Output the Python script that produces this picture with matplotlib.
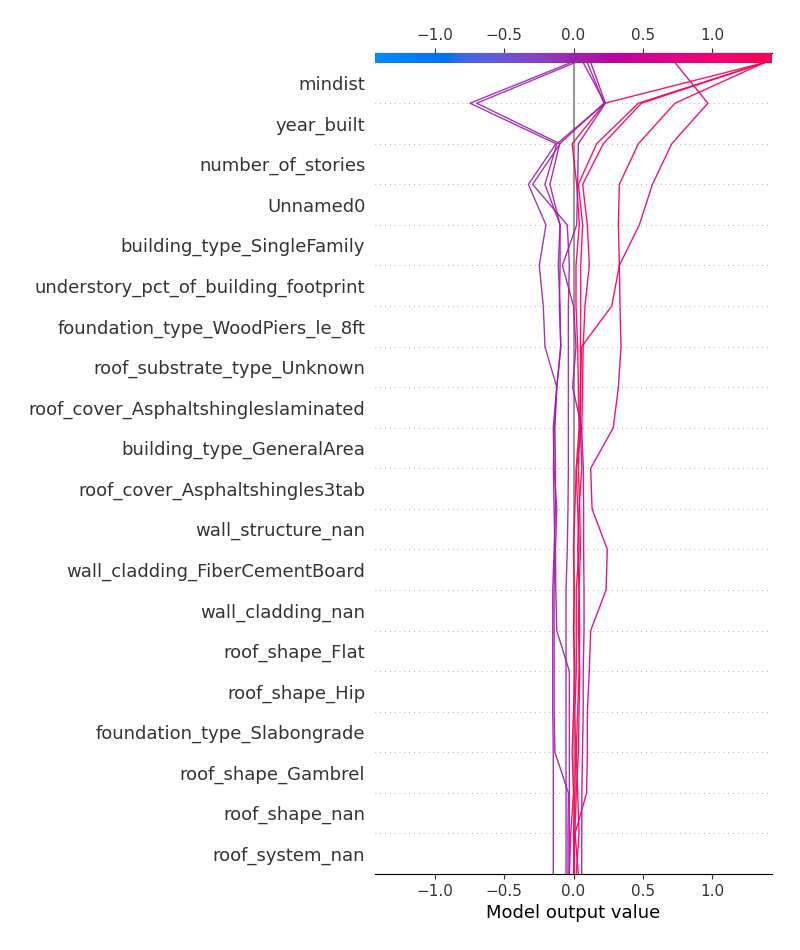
import numpy as np
import matplotlib
matplotlib.use("Agg")
import matplotlib.pyplot as plt
from matplotlib.colors import LinearSegmentedColormap
from matplotlib import cm

# ---------------- data ----------------
feature_names = [  # top to bottom
    "mindist", "year_built", "number_of_stories", "Unnamed0",
    "building_type_SingleFamily", "understory_pct_of_building_footprint",
    "foundation_type_WoodPiers_le_8ft", "roof_substrate_type_Unknown",
    "roof_cover_Asphaltshingleslaminated", "building_type_GeneralArea",
    "roof_cover_Asphaltshingles3tab", "wall_structure_nan",
    "wall_cladding_FiberCementBoard", "wall_cladding_nan", "roof_shape_Flat",
    "roof_shape_Hip", "foundation_type_Slabongrade", "roof_shape_Gambrel",
    "roof_shape_nan", "roof_system_nan",
]
base_value = 0.0

# cumulative model output per observation, from the top level (final output) down to the bottom level
obs_r1 = [1.378, 0.227, -0.01, 0.023, 0.042, 0.018, 0.018, 0.03, 0.035, 0.04, 0.02,
          0.01, 0.0, 0.005, 0.0, 0.01, 0.0, -0.01, 0.0, -0.02, -0.03]
obs_r2 = [1.378, 0.468, 0.167, 0.035, 0.066, 0.052, 0.052, 0.05, 0.05, 0.05, 0.06,
          0.04, 0.03, 0.04, 0.045, 0.04, 0.03, 0.02, 0.03, 0.04, 0.02]
obs_r3 = [1.378, 0.49, 0.215, 0.066, 0.1, 0.114, 0.083, 0.07, 0.065, 0.06, 0.02,
          0.03, 0.04, 0.02, 0.02, 0.02, 0.01, 0.015, 0.01, 0.0, 0.005]
obs_r4 = [1.378, 0.733, 0.468, 0.331, 0.324, 0.331, 0.276, 0.059, 0.05, 0.045, 0.035,
          0.045, 0.05, 0.04, 0.035, 0.045, 0.04, 0.035, 0.02, 0.01, 0.0]
obs_p = [0.733, 0.97, 0.709, 0.57, 0.475, 0.331, 0.336, 0.343, 0.324, 0.287, 0.124,
         0.134, 0.244, 0.235, 0.124, 0.114, 0.1, 0.1, 0.095, 0.011, 0.035]
obs_pa = [-0.02, -0.747, -0.126, -0.326, -0.199, -0.247, -0.218, -0.206, -0.121, -0.134, -0.13,
          -0.13, -0.14, -0.15, -0.15, -0.15, -0.15, -0.146, -0.146, -0.146, -0.146]
obs_pb = [0.01, -0.699, -0.097, -0.295, -0.045, -0.03, -0.037, -0.037, -0.037, -0.037, -0.037,
          -0.04, -0.045, -0.054, -0.054, -0.054, -0.054, -0.054, -0.054, -0.054, -0.054]
obs_pc = [0.07, 0.227, -0.12, -0.206, -0.097, -0.097, -0.102, -0.092, -0.121, -0.146, -0.14,
          -0.121, -0.13, -0.128, -0.121, -0.03, -0.03, -0.03, -0.03, -0.03, -0.03]
obs_pd = [0.10, 0.22, -0.10, -0.17, -0.097, -0.11, -0.097, -0.092, -0.12, -0.14, -0.145,
          -0.14, -0.135, -0.14, -0.14, -0.14, -0.14, -0.134, -0.037, -0.04, -0.04]
obs_pe = [0.125, 0.23, 0.035, 0.03, 0.023, -0.08, 0.0, 0.018, -0.006, 0.059, 0.071,
          0.073, 0.073, 0.076, 0.076, 0.07, 0.07, 0.065, 0.06, 0.06, 0.059]

observations = [obs_r1, obs_r2, obs_r3, obs_r4, obs_p, obs_pa, obs_pb, obs_pc, obs_pd, obs_pe]

# ---------------- shap red_blue colormap ----------------
def lch2rgb(l, c, h):
    a = c * np.cos(h)
    b = c * np.sin(h)
    y = (l + 16.0) / 116.0
    x = a / 500.0 + y
    z = max(y - b / 200.0, 0.0)
    xyz = np.array([x, y, z])
    xyz = np.where(xyz > 0.2068966, xyz ** 3, (xyz - 16.0 / 116.0) / 7.787)
    xyz = xyz * np.array([0.95047, 1.0, 1.08883])
    M = np.array([[3.24048134, -1.53715152, -0.49853633],
                  [-0.96925495, 1.87599, 0.04155593],
                  [0.05564664, -0.20404134, 1.05731107]])
    rgb = M @ xyz
    rgb = np.where(rgb > 0.0031308,
                   1.055 * np.power(np.clip(rgb, 0.0031308, None), 1 / 2.4) - 0.055,
                   rgb * 12.92)
    return np.clip(rgb, 0, 1)

blue_lch = [54., 70., 4.6588]
red_lch = [54., 90., 0.35470565 + 2 * np.pi]
l_mid = 40.
nsteps = 100
l_vals = list(np.linspace(blue_lch[0], l_mid, nsteps // 2)) + list(np.linspace(l_mid, red_lch[0], nsteps // 2))
c_vals = np.linspace(blue_lch[1], red_lch[1], nsteps)
h_vals = np.linspace(blue_lch[2], red_lch[2], nsteps)
cols = [lch2rgb(l, c, h) for l, c, h in zip(l_vals, c_vals, h_vals)]
red_blue = LinearSegmentedColormap.from_list("red_blue", cols)

# ---------------- plot ----------------
n = len(feature_names)
cumsum = np.array([o[::-1] for o in observations])  # bottom -> top
xmin = min(cumsum.min(), base_value)
xmax = max(cumsum.max(), base_value)
half = max(base_value - xmin, xmax - base_value)
xlim = (base_value - half, base_value + half)
pad = (xlim[1] - xlim[0]) * 0.02
xlim = (xlim[0] - pad, xlim[1] + pad)

fig = plt.figure(figsize=(8, 9.5), dpi=100)
ax = fig.add_axes([375 / 800, 76 / 950, 397 / 800, 821.5 / 950])

ax.axvline(x=base_value, color="#999999", zorder=-1)
for i in range(1, n):
    ax.axhline(y=i, color="#999999", lw=0.8, dashes=(0.6, 3.75), zorder=-1)

ax.set_xlim(xlim)
m = cm.ScalarMappable(cmap=red_blue)
m.set_clim(xlim)
y_pos = np.arange(0, n + 1)
for row in cumsum:
    ax.plot(row, y_pos, color=m.to_rgba(row[-1], 0.92), linewidth=1)

ax.xaxis.set_ticks_position("both")
ax.yaxis.set_ticks_position("none")
for s in ["right", "left"]:
    ax.spines[s].set_visible(False)
ax.tick_params(color="#333333", labelcolor="#333333", labeltop=True)
ax.set_yticks(np.arange(n) + 0.5)
ax.set_yticklabels(feature_names[::-1], fontsize=13)
ax.tick_params("x", labelsize=11)
ax.set_xticks([-1.0, -0.5, 0.0, 0.5, 1.0])
ax.set_xlabel("Model output value", fontsize=13)

ax.set_ylim(0, n + 0.25)
ax_cb = ax.inset_axes([xlim[0], n, xlim[1] - xlim[0], 0.25], transform=ax.transData)
cm2 = cm.ScalarMappable(cmap=red_blue)
cm2.set_array(np.array([0, 1]))
cb = fig.colorbar(cm2, cax=ax_cb, orientation="horizontal")
cb.set_ticks([])
cb.outline.set_visible(False)

fig.savefig("out.png", dpi=100)
